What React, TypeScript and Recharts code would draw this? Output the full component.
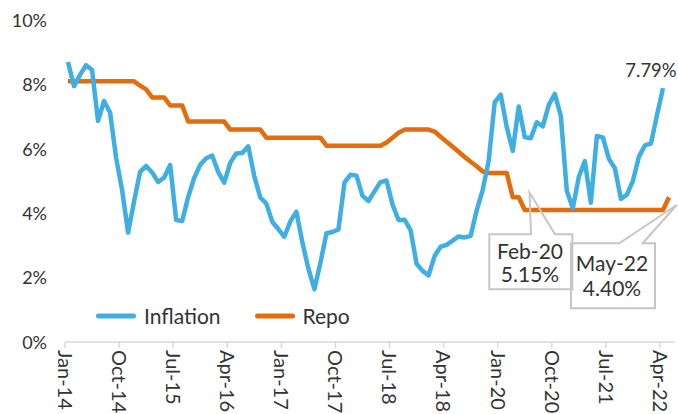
import React from 'react';
import { LineChart, Line, XAxis, YAxis, Legend, ReferenceDot, LabelList } from 'recharts';

// ---------- data ----------
const monthNames = ['Jan', 'Feb', 'Mar', 'Apr', 'May', 'Jun', 'Jul', 'Aug', 'Sep', 'Oct', 'Nov', 'Dec'];
const yearSuffixes = ['14', '15', '16', '17', '18', '19', '20', '21', '22'];
const months: string[] = [];
yearSuffixes.forEach((y) => monthNames.forEach((m) => months.push(`${m}-${y}`)));
const monthsShown = months.slice(0, 101); // Jan-14 .. May-22

// CPI inflation (%), Jan-14 .. Apr-22
const inflation: number[] = [
  8.6, 7.85, 8.2, 8.5, 8.35, 6.77, 7.39, 7.03, 5.63, 4.62, 3.3, 4.28,
  5.19, 5.37, 5.17, 4.87, 5.01, 5.4, 3.69, 3.66, 4.41, 5.0, 5.41, 5.61,
  5.69, 5.18, 4.85, 5.47, 5.76, 5.77, 5.98, 5.05, 4.39, 4.2, 3.63, 3.41,
  3.17, 3.65, 3.95, 2.99, 2.18, 1.54, 2.36, 3.28, 3.32, 3.4, 4.85, 5.1,
  5.07, 4.44, 4.28, 4.58, 4.87, 4.92, 4.17, 3.69, 3.7, 3.38, 2.33, 2.11,
  1.97, 2.57, 2.86, 2.92, 3.05, 3.18, 3.15, 3.2, 3.99, 4.62, 5.54, 7.35,
  7.59, 6.58, 5.84, 7.22, 6.27, 6.23, 6.73, 6.6, 7.27, 7.61, 6.93, 4.59,
  4.06, 5.03, 5.52, 4.23, 6.3, 6.26, 5.59, 5.3, 4.35, 4.48, 4.91, 5.66,
  6.01, 6.07, 6.95, 7.79,
];

// Repo rate (%), Jan-14 .. May-22
const repo: number[] = [
  8.0, 8.0, 8.0, 8.0, 8.0, 8.0, 8.0, 8.0, 8.0, 8.0, 8.0, 8.0,
  7.87, 7.75, 7.5, 7.5, 7.5, 7.25, 7.25, 7.25, 6.75, 6.75, 6.75, 6.75,
  6.75, 6.75, 6.75, 6.5, 6.5, 6.5, 6.5, 6.5, 6.5, 6.25, 6.25, 6.25,
  6.25, 6.25, 6.25, 6.25, 6.25, 6.25, 6.25, 6.0, 6.0, 6.0, 6.0, 6.0,
  6.0, 6.0, 6.0, 6.0, 6.0, 6.1, 6.25, 6.4, 6.5, 6.5, 6.5, 6.5,
  6.5, 6.44, 6.28, 6.12, 5.97, 5.81, 5.65, 5.5, 5.36, 5.2, 5.15, 5.15,
  5.15, 5.15, 4.4, 4.4, 4.0, 4.0, 4.0, 4.0, 4.0, 4.0, 4.0, 4.0,
  4.0, 4.0, 4.0, 4.0, 4.0, 4.0, 4.0, 4.0, 4.0, 4.0, 4.0, 4.0,
  4.0, 4.0, 4.0, 4.0, 4.4,
];

const tickLabels = ['Jan-14', 'Oct-14', 'Jul-15', 'Apr-16', 'Jan-17', 'Oct-17', 'Jul-18', 'Apr-18', 'Jan-20', 'Oct-20', 'Jul-21', 'Apr-22'];
const yTicks = [0, 2, 4, 6, 8, 10];

const callouts = [
  { month: 'Feb-20', value: 5.15 },
  { month: 'May-22', value: 4.4 },
];

const seriesInfo = [
  { key: 'inflation', name: 'Inflation', color: '#3FAEE3' },
  { key: 'repo', name: 'Repo', color: '#E46C0A' },
];

// ---------- derived ----------
const data = monthsShown.map((m, i) => ({
  i,
  month: m,
  inflation: i < inflation.length ? inflation[i] : null,
  repo: repo[i],
}));
const tickPositions = tickLabels.map((_, k) => k * 9 - 0.5);
const lastInflationIndex = inflation.length - 1;

// ---------- styles ----------
const FONT = 'Lato, "Open Sans", sans-serif';
const TEXT = '#333333';
const GRID = '#d9d9d9';
const CALLOUT_STROKE = '#c6c6c6';

const calloutLayout: Record<string, any> = {
  'Feb-20': { L: -17.4, T: 61.2, R: 65.6, B: 116.2, b1: 24.3, b2: 48.3, tx: 22.8, ty: 19.4, cx: 23.3, y1: 77, y2: 100 },
  'May-22': { L: -98, T: 46.1, R: -14, B: 111.1, b1: -49.7, b2: -26.3, tx: 7.7, ty: 7.8, cx: -57, y1: 65, y2: 90 },
};

const YTick = (props: any) => {
  const { x, y, payload } = props;
  return (
    <text x={x} y={y + 3} textAnchor="end" dominantBaseline="central" fontFamily={FONT} fontSize={18} fill={TEXT}>
      {`${payload.value}%`}
    </text>
  );
};

const XTick = (props: any) => {
  const { x, y, payload } = props;
  const k = tickPositions.indexOf(payload.value);
  return (
    <g transform={`translate(${x},${y})`}>
      <text transform="rotate(90)" x={0} y={0} dy="0.36em" textAnchor="start" fontFamily={FONT} fontSize={20} fill={TEXT}>
        {tickLabels[k]}
      </text>
    </g>
  );
};

const makeCallout = (month: string, value: number) => (props: any) => {
  const { cx, cy } = props;
  const g = calloutLayout[month];
  const d = `M${g.L},${g.T} L${g.b1},${g.T} L${g.tx},${g.ty} L${g.b2},${g.T} L${g.R},${g.T} L${g.R},${g.B} L${g.L},${g.B} Z`;
  return (
    <g transform={`translate(${cx},${cy})`}>
      <path d={d} fill="none" stroke={CALLOUT_STROKE} strokeWidth={2} strokeLinejoin="miter" />
      <text x={g.cx} y={g.y1} textAnchor="middle" dominantBaseline="central" fontFamily={FONT} fontSize={21} fill={TEXT}>
        {month}
      </text>
      <text x={g.cx} y={g.y2} textAnchor="middle" dominantBaseline="central" fontFamily={FONT} fontSize={21} fill={TEXT}>
        {`${value.toFixed(2)}%`}
      </text>
    </g>
  );
};

const LastLabel = (props: any) => {
  const { x, y, index, value } = props;
  if (index !== lastInflationIndex || value == null) return null;
  return (
    <text x={x - 12} y={y - 18.5} textAnchor="middle" dominantBaseline="central" fontFamily={FONT} fontSize={18.5} fill={TEXT}>
      {`${Number(value).toFixed(2)}%`}
    </text>
  );
};

const LegendContent = () => (
  <div style={{ display: 'flex', alignItems: 'center', height: 26, fontFamily: FONT, fontSize: 21, color: TEXT, whiteSpace: 'nowrap' }}>
    {seriesInfo.map((s, idx) => (
      <div key={s.key} style={{ display: 'flex', alignItems: 'center', marginRight: idx === 0 ? 34 : 0 }}>
        <svg width={40} height={10} style={{ display: 'block' }}>
          <line x1={2.5} y1={5} x2={37.5} y2={5} stroke={s.color} strokeWidth={5} strokeLinecap="round" />
        </svg>
        <span style={{ marginLeft: 8, lineHeight: '26px' }}>{s.name}</span>
      </div>
    ))}
  </div>
);

export default function App() {
  return (
    <div style={{ position: 'absolute', left: 0, top: 0, width: 678, height: 414, background: '#fff' }}>
      <LineChart width={678} height={414} data={data} margin={{ top: 17, right: 3, bottom: 0, left: 15 }}>
        <XAxis
          dataKey="i"
          type="number"
          domain={[-0.5, 101]}
          ticks={tickPositions}
          interval={0}
          allowDataOverflow
          height={72}
          axisLine={{ stroke: GRID, strokeWidth: 1.5 }}
          tickLine={{ stroke: GRID, strokeWidth: 1.5 }}
          tickSize={6}
          tickMargin={2}
          tick={<XTick />}
        />
        <YAxis
          type="number"
          domain={[-0.1, 10]}
          ticks={yTicks}
          interval={0}
          allowDataOverflow
          width={50}
          axisLine={false}
          tickLine={false}
          tickMargin={12}
          tick={<YTick />}
        />
        {callouts.map((c) => (
          <ReferenceDot
            key={c.month}
            x={monthsShown.indexOf(c.month)}
            y={c.value}
            r={0}
            shape={makeCallout(c.month, c.value)}
          />
        ))}
        <Line
          type="linear"
          dataKey="repo"
          name="Repo"
          stroke={seriesInfo[1].color}
          strokeWidth={4.5}
          strokeLinejoin="round"
          dot={false}
          activeDot={false}
          isAnimationActive={false}
        />
        <Line
          type="linear"
          dataKey="inflation"
          name="Inflation"
          stroke={seriesInfo[0].color}
          strokeWidth={4.5}
          strokeLinejoin="round"
          dot={false}
          activeDot={false}
          isAnimationActive={false}
        >
          <LabelList dataKey="inflation" content={<LastLabel />} />
        </Line>
        <Legend
          layout="horizontal"
          align="center"
          verticalAlign="middle"
          content={<LegendContent />}
          wrapperStyle={{ left: 96, top: 302.5, width: 'auto', height: 26 }}
        />
      </LineChart>
    </div>
  );
}
